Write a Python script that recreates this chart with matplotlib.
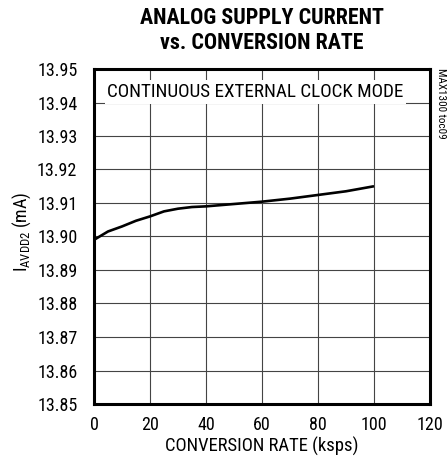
import matplotlib
matplotlib.use("Agg")
import matplotlib.pyplot as plt

FAM = ['Roboto Condensed', 'DejaVu Sans']
plt.rcParams['font.family'] = FAM

rate = [0, 2, 5, 10, 15, 20, 25, 30, 35, 40, 50, 60, 70, 80, 90, 100]
current = [13.899, 13.9, 13.9015, 13.903, 13.9047, 13.906, 13.9075, 13.9083, 13.9088, 13.909,
           13.9097, 13.9104, 13.9113, 13.9124, 13.9135, 13.915]
xticks = [0, 20, 40, 60, 80, 100, 120]
yticks = [13.85, 13.86, 13.87, 13.88, 13.89, 13.90, 13.91, 13.92, 13.93, 13.94, 13.95]

W, H = 447, 467
fig = plt.figure(figsize=(W / 100, H / 100), dpi=100)
ax = fig.add_axes([94 / W, 1 - 404 / H, 336 / W, 335 / H])
ax.plot(rate, current, color='black', lw=1.9, zorder=3, solid_capstyle='butt')
ax.set_xlim(0, 120)
ax.set_ylim(13.85, 13.95)
ax.set_xticks(xticks)
ax.set_yticks(yticks)
ax.set_yticklabels([f"{v:.2f}" for v in yticks])
ax.grid(True, color='#444444', lw=0.8)
ax.tick_params(axis='y', direction='in', length=0, labelsize=13, pad=12)
ax.tick_params(axis='x', direction='in', length=0, labelsize=13, pad=9)
for s in ax.spines.values():
    s.set_linewidth(2.2)

fig.text(262 / W, 1 - 446 / H, "CONVERSION RATE (ksps)", ha='center', va='center', fontsize=13.4)
fig.text(22 / W, 1 - 232 / H, r"I$_{\mathregular{AVDD2}}$ (mA)", ha='center', va='center',
         rotation=90, fontsize=13)
fig.text(262 / W, 1 - 18 / H, "ANALOG SUPPLY CURRENT", ha='center', va='center',
         fontsize=15.8, fontweight='bold')
fig.text(262 / W, 1 - 43 / H, "vs. CONVERSION RATE", ha='center', va='center',
         fontsize=15.8, fontweight='bold')
ax.text((255.5 - 94) / 336, 1 - (92 - 69) / 335, "CONTINUOUS EXTERNAL CLOCK MODE",
        transform=ax.transAxes, ha='center', va='center', fontsize=13.8,
        bbox=dict(facecolor='white', edgecolor='none', pad=2), zorder=4)
fig.text(441 / W, 1 - 103 / H, "MAX1300 toc09", rotation=270, ha='center', va='center', fontsize=8)
fig.savefig("out.png", dpi=100)
